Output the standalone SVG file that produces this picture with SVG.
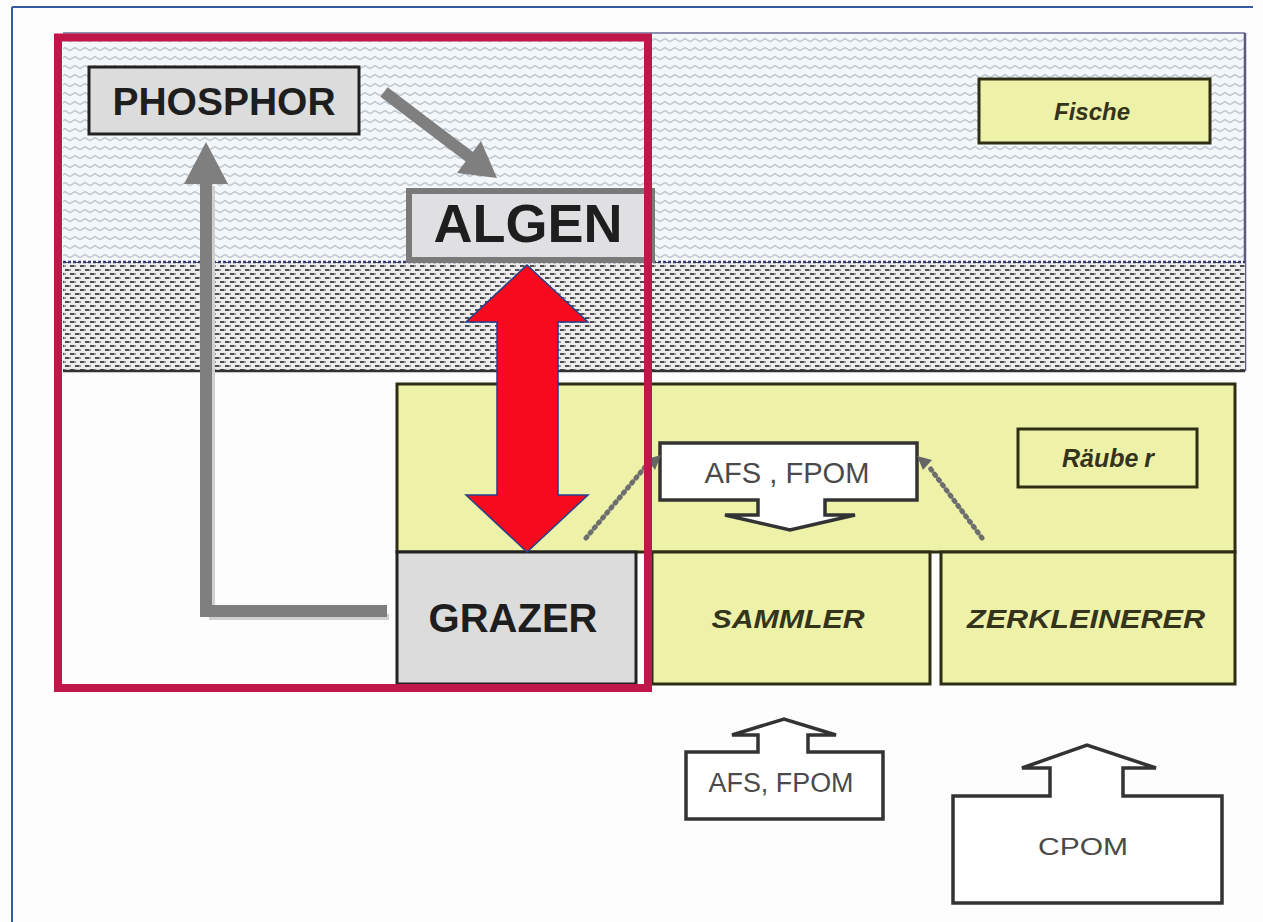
<svg xmlns="http://www.w3.org/2000/svg" width="1263" height="922" viewBox="0 0 1263 922">
  <defs>
    <pattern id="water" x="0" y="0" width="10" height="9" patternUnits="userSpaceOnUse">
      <rect width="10" height="9" fill="#F3F7FA"/>
      <polyline points="0,5.5 5,2.5 10,5.5" fill="none" stroke="#BFC7CE" stroke-width="1.5"/>
    </pattern>
    <pattern id="sediment" x="0" y="0" width="10" height="8" patternUnits="userSpaceOnUse">
      <rect width="10" height="8" fill="#EDEDED"/>
      <rect x="0" y="1" width="4" height="2" fill="#4E4E4E"/>
      <rect x="4" y="1" width="2" height="2" fill="#9C9C9C"/>
      <rect x="5" y="5" width="4" height="2" fill="#4E4E4E"/>
      <rect x="9" y="5" width="1" height="2" fill="#9C9C9C"/>
      <rect x="0" y="5" width="1" height="2" fill="#9C9C9C"/>
    </pattern>
    <style>
      .bold { font-family: "Liberation Sans", Arial, sans-serif; font-weight: bold; fill: #1E1E1E; }
      .lab { font-family: "Liberation Sans", Arial, sans-serif; font-weight: bold; font-style: italic; fill: #34341C; }
      .flow { font-family: "Liberation Sans", Arial, sans-serif; fill: #4A4A4A; }
      .yel { fill: #EEF2A8; stroke: #2E2E14; stroke-width: 3; }
      .gbox { fill: #DCDCDC; stroke: #222; stroke-width: 3; }
      .callout { fill: #FFFFFF; stroke: #333; stroke-width: 3.5; stroke-linejoin: miter; }
      .garrow { fill: none; stroke: #7F7F7F; stroke-width: 12; stroke-linejoin: miter; }
      .dots { fill: none; stroke: #6E6E6E; stroke-width: 5; stroke-dasharray: 1.5 5; stroke-linecap: round; }
    </style>
  </defs>

  <rect width="1263" height="922" fill="#FDFDFD"/>
  <g id="border">
    <line x1="12" y1="7" x2="1253" y2="7" stroke="#3A5AA0" stroke-width="2"/>
    <line x1="12" y1="7" x2="12" y2="922" stroke="#3A5AA0" stroke-width="2"/>
  </g>

  <g id="water">
    <rect x="63" y="33" width="1182" height="229" fill="url(#water)"/>
    <line x1="63" y1="33" x2="1245" y2="33" stroke="#9090B0" stroke-width="2"/>
    <line x1="1245" y1="33" x2="1245" y2="371" stroke="#5A5A80" stroke-width="2.5"/>
  </g>

  <g id="sediment">
    <rect x="63" y="262" width="1182" height="109" fill="url(#sediment)"/>
    <line x1="63" y1="262" x2="1245" y2="262" stroke="#3A3A70" stroke-width="2.5" stroke-dasharray="3 2"/>
    <line x1="63" y1="371" x2="1245" y2="371" stroke="#333" stroke-width="2.5"/>
  </g>

  <g id="fische">
    <rect class="yel" x="979" y="79" width="231" height="64"/>
    <text class="lab" x="1092" y="120" font-size="24" text-anchor="middle">Fische</text>
  </g>

  <g id="konsumenten">
    <rect class="yel" x="397" y="384" width="838" height="168"/>
  </g>

  <g id="raeuber">
    <rect class="yel" x="1018" y="429" width="179" height="58"/>
    <text class="lab" x="1108" y="467" font-size="25" text-anchor="middle">Räube<tspan dx="6">r</tspan></text>
  </g>

  <g id="grazer">
    <rect class="gbox" x="397" y="552" width="239" height="132"/>
    <text class="bold" x="513" y="632" font-size="40" text-anchor="middle" textLength="169" lengthAdjust="spacing">GRAZER</text>
  </g>

  <g id="sammler">
    <rect class="yel" x="652" y="552" width="278" height="132"/>
    <text class="lab" x="788" y="628" font-size="26" text-anchor="middle" textLength="153" lengthAdjust="spacingAndGlyphs">SAMMLER</text>
  </g>

  <g id="zerkleinerer">
    <rect class="yel" x="941" y="552" width="294" height="132"/>
    <text class="lab" x="1086" y="628" font-size="26" text-anchor="middle" textLength="238" lengthAdjust="spacingAndGlyphs">ZERKLEINERER</text>
  </g>

  <g id="afs-fpom-oben">
    <path class="callout" d="M660,443 H917 V500 H825 V515 H855 L790,530 L725,515 H758 V500 H660 Z"/>
    <text class="flow" x="787" y="483" font-size="29" text-anchor="middle" textLength="165" lengthAdjust="spacingAndGlyphs">AFS , FPOM</text>
  </g>

  <g id="afs-fpom-unten">
    <path class="callout" d="M686,752 H758 V735 H732 L784,719 L836,735 H808 V752 H883 V819 H686 Z"/>
    <text class="flow" x="781" y="792" font-size="27" text-anchor="middle" textLength="145" lengthAdjust="spacingAndGlyphs">AFS, FPOM</text>
  </g>

  <g id="cpom">
    <path class="callout" d="M953,796 H1050 V768 H1022 L1087,745 L1156,768 H1123 V796 H1222 V903 H953 Z"/>
    <text class="flow" x="1083" y="855" font-size="24" text-anchor="middle" textLength="90" lengthAdjust="spacingAndGlyphs">CPOM</text>
  </g>

  <g id="phosphor">
    <rect class="gbox" x="89" y="67" width="270" height="67"/>
    <text class="bold" x="224" y="115" font-size="39" text-anchor="middle">PHOSPHOR</text>
  </g>

  <g id="algen">
    <rect x="409" y="191" width="243" height="69" fill="#E0E0E2" stroke="#7A7A7A" stroke-width="6"/>
    <text class="bold" x="528" y="242" font-size="54" text-anchor="middle">ALGEN</text>
  </g>

  <g id="connectors">
    <!-- PHOSPHOR -> ALGEN -->
    <line class="garrow" x1="384" y1="92" x2="471" y2="158" stroke-linecap="butt"/>
    <polygon points="497,178 457,173 481,141" fill="#7F7F7F"/>
    <!-- GRAZER -> PHOSPHOR -->
    <polyline points="389,617 212,617 212,186" fill="none" stroke="#D0D0D0" stroke-width="6"/>
    <polyline class="garrow" points="387,611 206,611 206,182"/>
    <polygon points="206,142 228,184 184,184" fill="#7F7F7F"/>
    <!-- GRAZER -> AFS,FPOM (dotted) -->
    <line class="dots" x1="586" y1="538" x2="646" y2="466"/>
    <polygon points="661,455 647,459 655,470" fill="#666"/>
    <!-- ZERKLEINERER -> AFS,FPOM (dotted) -->
    <line class="dots" x1="982" y1="538" x2="930" y2="468"/>
    <polygon points="917,456 932,460 923,470" fill="#666"/>
    <!-- ALGEN <-> GRAZER -->
    <polygon points="527,265 588,322 558,322 558,495 588,495 527,552 466,495 497,495 497,322 466,322" fill="#F80A1E" stroke="#23408A" stroke-width="1.5" stroke-linejoin="miter"/>
  </g>

  <g id="highlight-frame">
    <rect x="58" y="37.5" width="590" height="650.5" fill="none" stroke="#C0164A" stroke-width="8"/>
  </g>
</svg>
